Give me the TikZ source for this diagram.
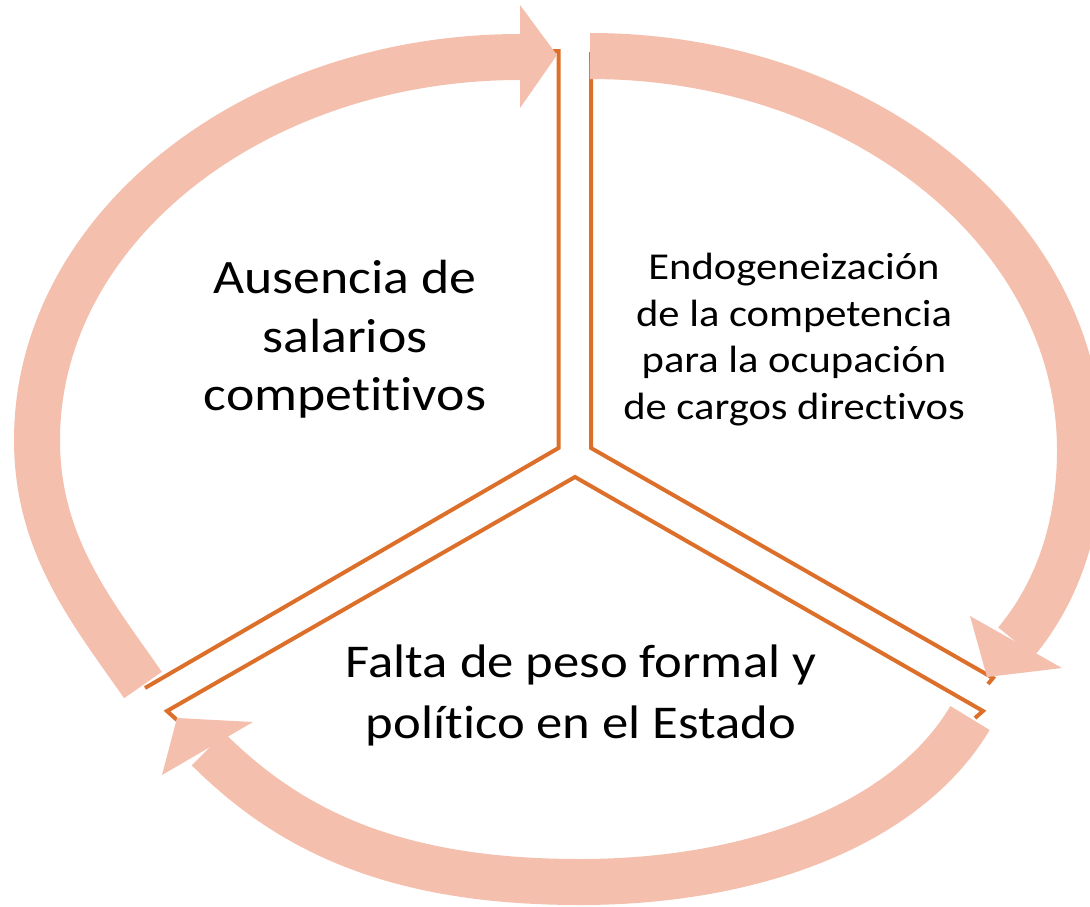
\documentclass[tikz,border=0pt]{standalone}
\usepackage{fontspec}
\setmainfont{Carlito}
\newfontfamily\lblfont[FakeStretch=1.12,Ligatures=NoCommon,RawFeature={-liga;-clig}]{Carlito}
\definecolor{bandpink}{RGB}{244,191,173}
\definecolor{edgeorange}{RGB}{220,112,42}
\begin{document}
\begin{tikzpicture}[x=1pt,y=-1pt,
  bandline/.style={draw=bandpink,line width=46pt,line cap=butt},
  headfill/.style={fill=bandpink},
  sector/.style={draw=edgeorange,line width=4pt,line join=miter},
  lbl/.style={align=center,text=black,inner sep=0pt}]
\useasboundingbox (0,0) rectangle (1090,906);
\clip (0,0) rectangle (1090,906);
% sector outlines
\coordinate (l0) at (553,51);
\coordinate (l1) at (558.5,51);
\coordinate (l2) at (558.5,448);
\coordinate (l3) at (145,688);
\draw[sector] (l0) -- (l1) -- (l2) -- (l3);
\coordinate (r1) at (591,52);
\coordinate (r2) at (591,448);
\coordinate (r3) at (993,678);
\coordinate (r4) at (988,684);
\draw[sector] (r1) -- (r2) -- (r3) -- (r4);
\coordinate (b0) at (177,720);
\coordinate (b1) at (167,711);
\coordinate (b2) at (575,477);
\coordinate (b3) at (983,711);
\coordinate (b4) at (975,718);
\draw[sector] (b0) -- (b1) -- (b2) -- (b3) -- (b4);
% arrow A (left, up to top)
\coordinate (a0) at (143,685);
\coordinate (a1) at (37,440);
\coordinate (a2) at (520,57);
\draw[bandline] (a0) .. controls (92,612) and (37,545) .. (a1) .. controls (37,229) and (253,57) .. (a2);
\fill[headfill] (520,5) -- (557,55) -- (520,108) -- cycle;
% arrow B (right, down)
\coordinate (c0) at (590,56);
\coordinate (c1) at (1080,450);
\coordinate (c2) at (1016,642);
\draw[bandline] (c0) .. controls (861,56) and (1080,232) .. (c1) .. controls (1080,520) and (1061,588) .. (c2);
\fill[headfill] (970,616) -- (987,677) -- (1062,668) -- cycle;
% arrow C (bottom, to left)
\coordinate (d0) at (970,718);
\coordinate (d1) at (580,882);
\coordinate (d2) at (208,749);
\draw[bandline] (d0) .. controls (909,821) and (760,882) .. (d1) .. controls (400,882) and (293,834) .. (d2);
\fill[headfill] (253,722) -- (177,718) -- (162,775) -- cycle;
% labels
\node[lbl,font=\lblfont\fontsize{48}{58.5}\selectfont] (t1) at (345,339.5) {Ausencia de\\salarios\\competitivos};
\node[lbl,font=\lblfont\fontsize{38}{46.5}\selectfont] (t2) at (794,339.5) {Endogeneización\\de la competencia\\para la ocupación\\de cargos directivos};
\node[lbl,font=\lblfont\fontsize{47}{61}\selectfont] (t3) at (581,695) {Falta de peso formal y\\político en el Estado};
\end{tikzpicture}
\end{document}
